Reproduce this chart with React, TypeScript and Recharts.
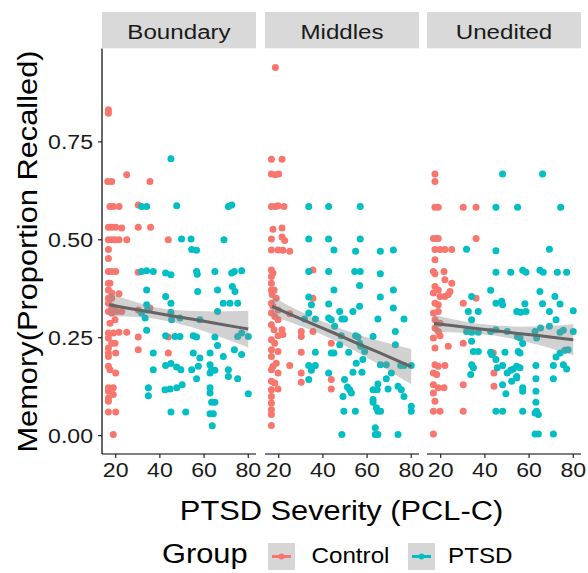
import React from 'react';
import { ComposedChart, Scatter, Line, Area, XAxis, YAxis } from 'recharts';

const FONT = '"Liberation Sans", Arial, Helvetica, sans-serif';
const SX = 1.1;

const facets = ['Boundary', 'Middles', 'Unedited'];
const groupNames = ['Control', 'PTSD'];
const groupColors = ['#F8766D', '#00BFC4'];
const xTicks = [20, 40, 60, 80];
const yTicks = [0, 0.25, 0.5, 0.75];

type P = [number, number];

const boundaryControl: P[] = [
  [16.7,0.832],[16.7,0.823],[16.4,0.649],[18.2,0.649],[25.0,0.666],[35.5,0.649],[17.4,0.585],[18.9,0.585],[21.5,0.585],[30.2,0.589],
  [16.7,0.532],[18.2,0.532],[20.0,0.532],[22.7,0.530],[30.2,0.532],[35.8,0.532],[16.7,0.5],[18.2,0.5],[19.7,0.5],[21.5,0.5],[25.0,0.5],[43.8,0.5],
  [16.7,0.475],[16.7,0.452],[16.7,0.419],[18.2,0.419],[20.0,0.419],[30.2,0.417],[16.7,0.389],[17.4,0.389],[16.7,0.372],[18.2,0.364],[21.5,0.362],
  [16.7,0.351],[18.2,0.351],[16.7,0.338],[18.2,0.330],[19.7,0.326],[16.7,0.317],[18.2,0.313],[20.4,0.317],[22.7,0.317],[35.5,0.326],[30.2,0.321],
  [19.7,0.296],[17.4,0.287],[16.7,0.262],[18.9,0.262],[21.5,0.264],[25.0,0.264],[30.2,0.252],[16.7,0.249],[18.2,0.236],[19.7,0.236],[16.7,0.224],
  [43.8,0.252],[30.2,0.219],[16.7,0.211],[20.0,0.211],[16.7,0.202],[43.8,0.211],[16.7,0.177],[17.4,0.168],[20.0,0.160],[16.7,0.122],[18.9,0.122],
  [16.7,0.113],[18.9,0.105],[16.7,0.096],[16.7,0.088],[16.7,0.060],[20.0,0.060],[18.9,0.003],
];
const boundaryPtsd: P[] = [
  [45.0,0.707],[31.7,0.585],[34.0,0.585],[47.6,0.587],[71.0,0.585],[72.5,0.589],[49.8,0.502],[54.1,0.502],[54.4,0.475],[56.6,0.473],[69.0,0.5],
  [31.7,0.419],[34.0,0.421],[37.0,0.419],[42.6,0.415],[45.0,0.411],[56.6,0.419],[56.9,0.412],[64.9,0.419],[72.5,0.415],[73.7,0.419],[77.0,0.421],
  [34.0,0.372],[42.6,0.355],[45.0,0.338],[57.1,0.368],[66.1,0.372],[72.8,0.381],[74.0,0.368],[68.7,0.338],[71.7,0.338],[75.2,0.338],[34.0,0.334],
  [34.5,0.321],[31.7,0.313],[33.3,0.300],[45.0,0.315],[45.3,0.296],[49.1,0.300],[58.1,0.296],[66.1,0.317],[34.0,0.269],[42.6,0.255],[46.8,0.253],
  [49.1,0.253],[55.1,0.255],[56.6,0.252],[64.9,0.252],[75.2,0.253],[77.0,0.262],[80.0,0.253],[37.0,0.211],[55.1,0.211],[58.1,0.198],[62.7,0.211],
  [66.1,0.230],[68.7,0.202],[73.7,0.219],[77.0,0.207],[37.0,0.168],[42.6,0.179],[45.0,0.184],[47.6,0.175],[49.5,0.168],[54.4,0.168],[57.4,0.177],
  [56.6,0.145],[62.7,0.181],[63.4,0.168],[62.7,0.160],[64.9,0.167],[71.0,0.168],[71.0,0.151],[75.2,0.145],[34.8,0.122],[34.8,0.102],[42.3,0.117],
  [44.6,0.119],[47.6,0.122],[50.1,0.130],[62.7,0.122],[62.7,0.109],[63.4,0.085],[64.9,0.085],[80.0,0.107],[45.0,0.060],[51.7,0.060],[62.7,0.056],
  [64.2,0.056],[63.7,0.025],
];
const middlesControl: P[] = [
  [18.5,0.940],[16.7,0.706],[21.5,0.706],[16.7,0.668],[18.5,0.666],[20.0,0.668],[16.7,0.585],[18.5,0.585],[19.7,0.587],[22.4,0.585],[17.4,0.527],
  [21.5,0.530],[16.7,0.502],[21.5,0.507],[22.7,0.498],[16.7,0.474],[19.7,0.474],[21.9,0.473],[25.0,0.471],[35.5,0.423],[16.7,0.423],[17.4,0.415],
  [16.7,0.406],[16.7,0.389],[16.7,0.372],[17.9,0.372],[17.0,0.360],[18.9,0.351],[16.7,0.338],[17.4,0.330],[19.7,0.321],[25.0,0.311],[35.5,0.351],
  [16.7,0.313],[18.2,0.304],[19.7,0.296],[16.7,0.283],[17.9,0.270],[21.5,0.270],[19.7,0.255],[21.9,0.258],[16.7,0.245],[18.2,0.236],[16.7,0.219],
  [19.7,0.215],[16.7,0.202],[18.9,0.185],[17.4,0.177],[16.7,0.168],[19.7,0.160],[25.0,0.179],[16.7,0.139],[18.2,0.134],[16.7,0.117],[19.7,0.119],
  [16.7,0.100],[16.7,0.083],[16.7,0.066],[16.7,0.054],[16.7,0.026],[30.2,0.266],[30.2,0.253],[35.5,0.266],[43.8,0.236],[30.2,0.213],[30.2,0.160],
  [30.2,0.136],[43.8,0.143],[43.8,0.119],
];
const middlesPtsd: P[] = [
  [33.6,0.585],[42.6,0.585],[56.9,0.585],[33.6,0.502],[42.6,0.502],[56.9,0.502],[45.0,0.474],[54.8,0.471],[66.0,0.471],[71.9,0.474],[33.6,0.419],
  [42.6,0.419],[54.4,0.419],[56.9,0.419],[66.0,0.413],[56.6,0.383],[45.0,0.372],[33.6,0.354],[34.8,0.334],[42.6,0.336],[71.9,0.372],[66.0,0.354],
  [56.6,0.330],[71.9,0.326],[47.6,0.317],[53.6,0.317],[33.6,0.313],[31.7,0.298],[36.6,0.298],[42.6,0.300],[43.8,0.296],[48.6,0.298],[49.8,0.298],
  [64.9,0.298],[76.7,0.298],[45.3,0.279],[54.8,0.255],[55.9,0.252],[62.7,0.253],[72.8,0.266],[48.3,0.255],[47.6,0.232],[45.0,0.211],[43.8,0.211],
  [51.7,0.213],[56.6,0.236],[58.9,0.215],[57.1,0.228],[72.8,0.232],[36.6,0.213],[33.6,0.179],[36.6,0.179],[34.8,0.167],[33.6,0.143],[42.6,0.160],
  [55.1,0.185],[58.1,0.194],[53.6,0.162],[57.7,0.162],[66.0,0.181],[68.7,0.181],[71.0,0.160],[75.2,0.179],[76.7,0.179],[80.0,0.179],[68.7,0.145],
  [69.5,0.119],[74.0,0.126],[75.5,0.117],[76.7,0.100],[49.8,0.143],[49.1,0.100],[52.1,0.117],[52.9,0.109],[51.1,0.124],[62.7,0.117],[64.9,0.132],
  [64.6,0.117],[62.7,0.092],[62.7,0.085],[64.2,0.071],[64.9,0.062],[66.1,0.062],[80.0,0.075],[80.0,0.062],[49.5,0.062],[54.7,0.062],[63.7,0.020],
  [63.7,0.003],[64.9,0.003],[48.6,0.003],[74.0,0.003],
];
const uneditedControl: P[] = [
  [17.4,0.668],[17.4,0.649],[17.4,0.583],[18.9,0.583],[30.2,0.583],[36.0,0.583],[16.7,0.503],[18.2,0.503],[18.9,0.503],[36.0,0.503],[17.4,0.475],
  [19.7,0.475],[21.9,0.475],[25.0,0.475],[17.4,0.449],[16.7,0.419],[17.4,0.413],[21.5,0.419],[25.0,0.389],[21.9,0.398],[17.4,0.381],[18.9,0.372],
  [24.2,0.368],[16.7,0.364],[19.7,0.355],[17.4,0.338],[18.9,0.334],[21.9,0.355],[23.4,0.360],[30.2,0.338],[36.0,0.351],[16.7,0.313],[18.9,0.317],
  [17.4,0.296],[19.7,0.287],[17.4,0.275],[18.9,0.266],[16.7,0.249],[19.7,0.255],[23.4,0.228],[17.4,0.224],[30.2,0.236],[17.4,0.181],[18.9,0.177],
  [21.9,0.179],[16.7,0.160],[18.2,0.156],[43.8,0.211],[44.1,0.160],[16.7,0.130],[18.9,0.122],[21.5,0.122],[16.7,0.109],[17.4,0.088],[30.2,0.130],
  [44.1,0.126],[16.7,0.062],[19.7,0.062],[30.2,0.062],[16.7,0.004],
];
const uneditedPtsd: P[] = [
  [48.0,0.668],[66.1,0.668],[45.0,0.583],[54.8,0.583],[74.3,0.583],[31.7,0.476],[45.0,0.472],[69.2,0.476],[45.0,0.417],[51.7,0.417],[57.1,0.422],
  [58.6,0.417],[64.9,0.422],[66.4,0.417],[72.8,0.417],[77.0,0.417],[34.0,0.355],[42.6,0.371],[45.0,0.338],[47.6,0.343],[48.0,0.334],[64.9,0.368],
  [66.1,0.337],[71.7,0.355],[74.0,0.336],[58.1,0.337],[32.5,0.317],[37.0,0.317],[34.0,0.296],[54.4,0.317],[56.2,0.315],[58.6,0.317],[69.2,0.317],
  [72.2,0.296],[69.2,0.279],[80.0,0.319],[31.7,0.266],[34.0,0.264],[37.0,0.264],[42.6,0.266],[45.0,0.270],[50.1,0.266],[54.7,0.253],[55.9,0.249],
  [57.1,0.235],[62.7,0.266],[65.2,0.275],[63.4,0.249],[74.0,0.264],[75.5,0.269],[80.0,0.266],[34.0,0.241],[34.8,0.215],[37.0,0.215],[34.0,0.181],
  [34.8,0.173],[33.6,0.156],[42.6,0.213],[43.1,0.207],[45.0,0.194],[45.6,0.173],[49.1,0.213],[48.0,0.179],[50.1,0.160],[51.7,0.167],[52.9,0.170],
  [54.4,0.177],[55.9,0.173],[55.1,0.215],[55.9,0.211],[48.0,0.130],[49.5,0.107],[52.1,0.139],[54.4,0.147],[54.4,0.151],[57.1,0.122],[57.1,0.113],
  [63.1,0.179],[71.0,0.179],[72.2,0.201],[74.0,0.211],[76.2,0.218],[77.7,0.219],[75.5,0.181],[77.0,0.170],[63.1,0.145],[71.0,0.145],[63.1,0.113],
  [63.1,0.085],[63.4,0.062],[64.2,0.054],[62.7,0.058],[45.0,0.062],[48.0,0.062],[57.1,0.062],[62.7,0.004],[64.2,0.004],[71.0,0.004],
];

// linear fit and its confidence band, read at these x positions
const fitX = [17, 25, 35, 45, 55, 65, 75, 80];
const boundaryFit = [0.334, 0.326, 0.316, 0.306, 0.297, 0.287, 0.277, 0.272];
const boundaryLow = [0.304, 0.304, 0.301, 0.291, 0.276, 0.257, 0.236, 0.225];
const boundaryHigh = [0.364, 0.348, 0.331, 0.321, 0.318, 0.317, 0.318, 0.319];
const middlesFit = [0.330, 0.310, 0.286, 0.262, 0.237, 0.213, 0.188, 0.176];
const middlesLow = [0.305, 0.290, 0.269, 0.244, 0.215, 0.183, 0.148, 0.131];
const middlesHigh = [0.355, 0.330, 0.303, 0.280, 0.259, 0.243, 0.228, 0.221];
const uneditedFit = [0.286, 0.281, 0.274, 0.268, 0.261, 0.255, 0.248, 0.245];
const uneditedLow = [0.264, 0.264, 0.261, 0.255, 0.244, 0.231, 0.214, 0.205];
const uneditedHigh = [0.308, 0.298, 0.287, 0.281, 0.278, 0.279, 0.282, 0.285];

const panels = [
  { name: facets[0], control: boundaryControl, ptsd: boundaryPtsd, fit: boundaryFit, low: boundaryLow, high: boundaryHigh },
  { name: facets[1], control: middlesControl, ptsd: middlesPtsd, fit: middlesFit, low: middlesLow, high: middlesHigh },
  { name: facets[2], control: uneditedControl, ptsd: uneditedPtsd, fit: uneditedFit, low: uneditedLow, high: uneditedHigh },
];

const X_DOMAIN: [number, number] = [13.8, 83.5];
const Y_DOMAIN: [number, number] = [-0.047, 0.9885];
const PLOT_TOP = 48.5;
const PLOT_BOTTOM = 454;
const H = 573;
const panelLeft = [102, 265, 427];
const panelW = 154;

const XTick = (props: any) => {
  const { x, y, payload } = props;
  return (
    <text transform={`translate(${x},${y + 17}) scale(${SX},1)`} textAnchor="middle" fontSize={21} fontFamily={FONT} fill="#1a1a1a">
      {payload.value}
    </text>
  );
};

const YTick = (props: any) => {
  const { x, y, payload } = props;
  return (
    <text transform={`translate(${x - 3},${y + 7.5}) scale(${SX},1)`} textAnchor="end" fontSize={21} fontFamily={FONT} fill="#1a1a1a">
      {Number(payload.value).toFixed(2)}
    </text>
  );
};

const dot = (color: string) => (props: any) => (
  <circle cx={props.cx} cy={props.cy} r={3.5} fill={color} />
);

function Panel({ idx }: { idx: number }) {
  const p = panels[idx];
  const first = idx === 0;
  const leftPad = first ? 0 : 10;
  const rightPad = idx === 2 ? 7 : 14;
  const divLeft = panelLeft[idx] - (first ? 102 : leftPad);
  const width = (first ? 102 : leftPad) + panelW + rightPad;
  const lineData = fitX.map((x, i) => ({ x, fit: p.fit[i], band: [p.low[i], p.high[i]] }));
  return (
    <div style={{ position: 'absolute', left: divLeft, top: 0 }}>
      <ComposedChart
        width={width}
        height={H}
        data={lineData}
        margin={{ top: PLOT_TOP, right: rightPad, bottom: 0, left: first ? 0 : leftPad }}
      >
        <XAxis
          type="number"
          dataKey="x"
          domain={X_DOMAIN}
          allowDataOverflow
          ticks={xTicks}
          interval={0}
          height={H - PLOT_BOTTOM}
          tickSize={4}
          tickMargin={2}
          axisLine={{ stroke: '#000', strokeWidth: 1.2 }}
          tickLine={{ stroke: '#222', strokeWidth: 1.2 }}
          tick={<XTick />}
        />
        <YAxis
          type="number"
          domain={Y_DOMAIN}
          allowDataOverflow
          ticks={yTicks}
          interval={0}
          width={first ? 102 : 0}
          hide={!first}
          tickSize={4}
          tickMargin={2}
          axisLine={{ stroke: '#000', strokeWidth: 1.2 }}
          tickLine={{ stroke: '#222', strokeWidth: 1.2 }}
          tick={<YTick />}
        />
        <Scatter name={groupNames[0]} data={p.control.map(([x, y]) => ({ x, y }))} dataKey="y" fill={groupColors[0]} shape={dot(groupColors[0])} isAnimationActive={false} />
        <Scatter name={groupNames[1]} data={p.ptsd.map(([x, y]) => ({ x, y }))} dataKey="y" fill={groupColors[1]} shape={dot(groupColors[1])} isAnimationActive={false} />
        <Area type="linear" dataKey="band" stroke="none" fill="#8c8c8c" fillOpacity={0.4} isAnimationActive={false} zIndex={700} />
        <Line type="linear" dataKey="fit" stroke="#646464" strokeWidth={3} dot={false} activeDot={false} isAnimationActive={false} zIndex={800} />
      </ComposedChart>
    </div>
  );
}

function ST({ x, y, size, anchor = 'middle', children, rotate = 0, sx = SX, fill = '#000' }: any) {
  return (
    <text
      transform={`translate(${x},${y})${rotate ? ` rotate(${rotate})` : ''} scale(${sx},1)`}
      textAnchor={anchor}
      fontSize={size}
      fontFamily={FONT}
      fill={fill}
    >
      {children}
    </text>
  );
}

export default function App() {
  return (
    <div style={{ position: 'absolute', left: 0, top: 0, width: 588, height: 573, overflow: 'hidden', background: '#fff' }}>
      {[0, 1, 2].map((i) => (
        <Panel key={i} idx={i} />
      ))}
      <svg width={588} height={573} style={{ position: 'absolute', left: 0, top: 0, pointerEvents: 'none' }}>
        {panels.map((p, i) => (
          <g key={p.name}>
            <rect x={panelLeft[i]} y={12} width={panelW} height={36.3} fill="#d9d9d9" />
            <ST x={panelLeft[i] + panelW / 2} y={39} size={21} sx={1.15} fill="#1a1a1a">{p.name}</ST>
          </g>
        ))}
        <ST x={37} y={251.5} size={28} rotate={-90}>Memory(Proportion Recalled)</ST>
        <ST x={341.5} y={520} size={28}>PTSD Severity (PCL-C)</ST>
        <ST x={162} y={563} size={28} anchor="start">Group</ST>
        {[268, 408].map((bx, i) => (
          <g key={bx}>
            <rect x={bx} y={543} width={27} height={27} fill="#d6d6d6" />
            <line x1={bx + 4} x2={bx + 23} y1={556.5} y2={556.5} stroke={groupColors[i]} strokeWidth={3} />
            <circle cx={bx + 13.5} cy={556.5} r={3} fill={groupColors[i]} />
          </g>
        ))}
        <ST x={311.5} y={563} size={22} anchor="start">{groupNames[0]}</ST>
        <ST x={448} y={563} size={22} anchor="start">{groupNames[1]}</ST>
      </svg>
    </div>
  );
}
